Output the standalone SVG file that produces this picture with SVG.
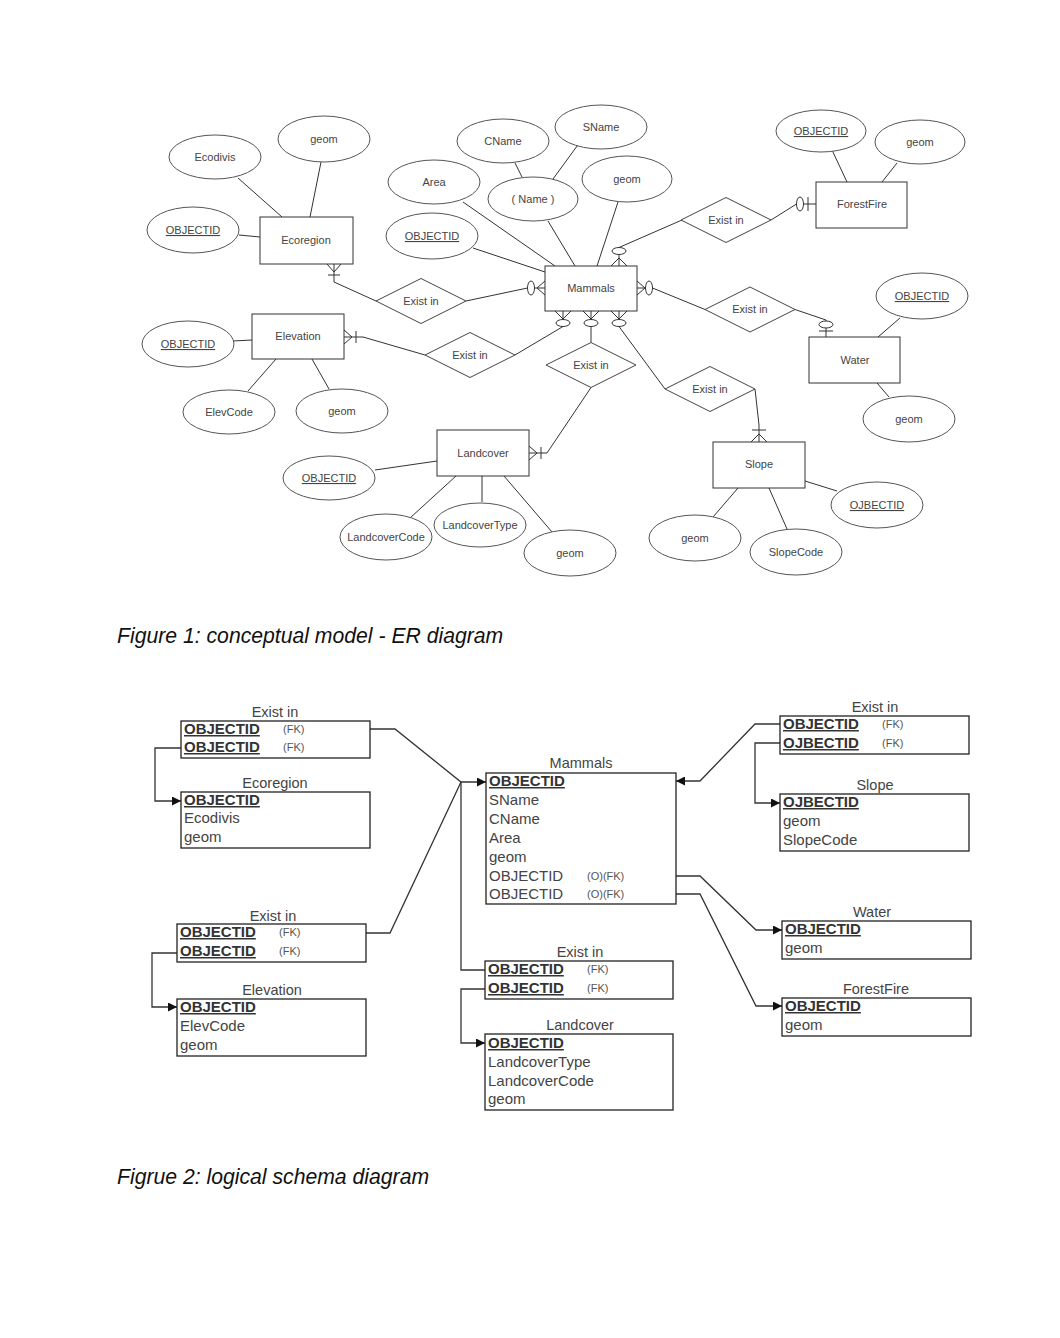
<svg xmlns="http://www.w3.org/2000/svg" width="1060" height="1338" viewBox="0 0 1060 1338">
<defs>
<style>
.bg{fill:#fff}
.ent{fill:#fff;stroke:#333;stroke-width:1}
.att{fill:#fff;stroke:#555;stroke-width:1}
.rel{fill:#fff;stroke:#444;stroke-width:1}
.ln{fill:none;stroke:#333;stroke-width:1}
.mk{fill:#fff;stroke:#333;stroke-width:1}
.t{font-family:"Liberation Sans",Arial,sans-serif;font-size:11px;fill:#444;text-anchor:middle}
.u{text-decoration:underline}
.tbl{fill:none;stroke:#222;stroke-width:1.3}
.sl{fill:none;stroke:#333;stroke-width:1.3}
.tt{font-family:"Liberation Sans",Arial,sans-serif;font-size:14.5px;fill:#444;text-anchor:middle}
.r{font-family:"Liberation Sans",Arial,sans-serif;font-size:15px;fill:#444}
.k{font-family:"Liberation Sans",Arial,sans-serif;font-size:15px;font-weight:bold;fill:#333;text-decoration:underline}
.fk{font-family:"Liberation Sans",Arial,sans-serif;font-size:11px;fill:#555}
.cap{font-family:"Liberation Sans",Arial,sans-serif;font-size:21.2px;font-style:italic;fill:#111}
</style>
<marker id="arr" viewBox="0 0 9 9" refX="9" refY="4.5" markerWidth="9" markerHeight="9" markerUnits="userSpaceOnUse" orient="auto">
<path d="M0,0 L9,4.5 L0,9 z" fill="#111"/>
</marker>
</defs>
<rect class="bg" x="0" y="0" width="1060" height="1338"/>

<!-- ER diagram connectors -->
<g id="er-connectors">
<!-- attribute lines -->
<line class="ln" x1="238" y1="178" x2="282" y2="217"/>
<line class="ln" x1="321" y1="162" x2="310" y2="217"/>
<line class="ln" x1="239" y1="235" x2="260" y2="237"/>
<line class="ln" x1="515" y1="163" x2="522" y2="177"/>
<line class="ln" x1="580" y1="142" x2="553" y2="179"/>
<line class="ln" x1="548" y1="221" x2="575" y2="266"/>
<line class="ln" x1="618" y1="202" x2="597" y2="266"/>
<line class="ln" x1="463" y1="202" x2="555" y2="266"/>
<line class="ln" x1="473" y1="248" x2="545" y2="272"/>
<line class="ln" x1="832" y1="150" x2="847" y2="182"/>
<line class="ln" x1="897" y1="163" x2="882" y2="182"/>
<line class="ln" x1="233" y1="341" x2="252" y2="340"/>
<line class="ln" x1="248" y1="391" x2="276" y2="359"/>
<line class="ln" x1="329" y1="389" x2="312" y2="359"/>
<line class="ln" x1="375" y1="470" x2="437" y2="461"/>
<line class="ln" x1="410" y1="518" x2="456" y2="476"/>
<line class="ln" x1="482" y1="502" x2="482" y2="476"/>
<line class="ln" x1="552" y1="532" x2="504" y2="476"/>
<line class="ln" x1="900" y1="318" x2="878" y2="337"/>
<line class="ln" x1="889" y1="397" x2="877" y2="383"/>
<line class="ln" x1="713" y1="517" x2="738" y2="488"/>
<line class="ln" x1="787" y1="529" x2="769" y2="488"/>
<line class="ln" x1="837" y1="491" x2="805" y2="481"/>
<!-- relationship lines -->
<polyline class="ln" points="334,264 334,282 376,301"/>
<polyline class="ln" points="327,264 334,272 341,264"/>
<line class="ln" x1="328" y1="275" x2="340" y2="275"/>
<line class="ln" x1="466" y1="301" x2="527.5" y2="288"/>
<line class="ln" x1="534.5" y1="288" x2="545" y2="288"/>
<polyline class="ln" points="545,281 537,288 545,295"/>
<ellipse class="mk" cx="531" cy="288" rx="3.5" ry="7"/>
<polyline class="ln" points="344,337 363,337 425,355"/>
<polyline class="ln" points="344,330 352,337 344,344"/>
<line class="ln" x1="356" y1="331" x2="356" y2="343"/>
<line class="ln" x1="515" y1="355" x2="563" y2="326.5"/>
<line class="ln" x1="563" y1="311" x2="563" y2="319.5"/>
<polyline class="ln" points="555,311 563,319 571,311"/>
<ellipse class="mk" cx="563" cy="323" rx="7" ry="3.5"/>
<line class="ln" x1="591" y1="342.5" x2="591" y2="326.5"/>
<line class="ln" x1="591" y1="311" x2="591" y2="319.5"/>
<polyline class="ln" points="583,311 591,319 599,311"/>
<ellipse class="mk" cx="591" cy="323" rx="7" ry="3.5"/>
<polyline class="ln" points="591,387.5 547,453 529,453"/>
<polyline class="ln" points="529,446 537,453 529,460"/>
<line class="ln" x1="541" y1="447" x2="541" y2="459"/>
<line class="ln" x1="619" y1="326.5" x2="665" y2="389"/>
<line class="ln" x1="619" y1="311" x2="619" y2="319.5"/>
<polyline class="ln" points="611,311 619,319 627,311"/>
<ellipse class="mk" cx="619" cy="323" rx="7" ry="3.5"/>
<polyline class="ln" points="755,389 759,425 759,442"/>
<polyline class="ln" points="751,442 759,434 767,442"/>
<line class="ln" x1="752" y1="430" x2="766" y2="430"/>
<line class="ln" x1="637" y1="288" x2="645.5" y2="288"/>
<polyline class="ln" points="637,281 645,288 637,295"/>
<ellipse class="mk" cx="649" cy="288" rx="3.5" ry="7"/>
<line class="ln" x1="652.5" y1="288" x2="705" y2="309.5"/>
<polyline class="ln" points="795,309.5 826,320 826,337"/>
<ellipse class="mk" cx="826" cy="324.5" rx="7" ry="3.5"/>
<line class="ln" x1="819" y1="331" x2="833" y2="331"/>
<line class="ln" x1="619" y1="266" x2="619" y2="254.5"/>
<polyline class="ln" points="611,266 619,258 627,266"/>
<ellipse class="mk" cx="619" cy="251" rx="7" ry="3.5"/>
<line class="ln" x1="619" y1="247.5" x2="682" y2="220"/>
<line class="ln" x1="771" y1="220" x2="796.5" y2="204"/>
<ellipse class="mk" cx="800" cy="204" rx="3.5" ry="7"/>
<line class="ln" x1="803.5" y1="204" x2="816" y2="204"/>
<line class="ln" x1="808" y1="197" x2="808" y2="211"/>
</g>

<!-- ER entities and attributes -->
<g id="er-ecoregion">
<rect class="ent" x="260" y="217" width="93" height="47"/>
<text class="t" x="306" y="244">Ecoregion</text>
<ellipse class="att" cx="215" cy="157" rx="46" ry="22"/><text class="t" x="215" y="161">Ecodivis</text>
<ellipse class="att" cx="324" cy="139" rx="46" ry="23"/><text class="t" x="324" y="143">geom</text>
<ellipse class="att" cx="193" cy="230" rx="46" ry="23"/><text class="t u" x="193" y="234">OBJECTID</text>
</g>
<g id="er-mammals">
<rect class="ent" x="545" y="266" width="92" height="45"/>
<text class="t" x="591" y="292">Mammals</text>
<ellipse class="att" cx="503" cy="141" rx="46" ry="22"/><text class="t" x="503" y="145">CName</text>
<ellipse class="att" cx="601" cy="127" rx="46" ry="22"/><text class="t" x="601" y="131">SName</text>
<ellipse class="att" cx="533" cy="199" rx="45" ry="22"/><text class="t" x="533" y="203">( Name )</text>
<ellipse class="att" cx="627" cy="179" rx="45" ry="23"/><text class="t" x="627" y="183">geom</text>
<ellipse class="att" cx="434" cy="182" rx="46" ry="22"/><text class="t" x="434" y="186">Area</text>
<ellipse class="att" cx="432" cy="236" rx="46" ry="23"/><text class="t u" x="432" y="240">OBJECTID</text>
</g>
<g id="er-forestfire">
<rect class="ent" x="816" y="182" width="91" height="46"/>
<text class="t" x="862" y="208">ForestFire</text>
<ellipse class="att" cx="821" cy="131" rx="45" ry="21"/><text class="t u" x="821" y="135">OBJECTID</text>
<ellipse class="att" cx="920" cy="142" rx="45" ry="22"/><text class="t" x="920" y="146">geom</text>
</g>
<g id="er-elevation">
<rect class="ent" x="252" y="314" width="92" height="45"/>
<text class="t" x="298" y="340">Elevation</text>
<ellipse class="att" cx="188" cy="344" rx="46" ry="23"/><text class="t u" x="188" y="348">OBJECTID</text>
<ellipse class="att" cx="229" cy="412" rx="46" ry="22"/><text class="t" x="229" y="416">ElevCode</text>
<ellipse class="att" cx="342" cy="411" rx="46" ry="22"/><text class="t" x="342" y="415">geom</text>
</g>
<g id="er-landcover">
<rect class="ent" x="437" y="430" width="92" height="46"/>
<text class="t" x="483" y="457">Landcover</text>
<ellipse class="att" cx="329" cy="478" rx="46" ry="22"/><text class="t u" x="329" y="482">OBJECTID</text>
<ellipse class="att" cx="386" cy="537" rx="46" ry="23"/><text class="t" x="386" y="541">LandcoverCode</text>
<ellipse class="att" cx="480" cy="525" rx="46" ry="22"/><text class="t" x="480" y="529">LandcoverType</text>
<ellipse class="att" cx="570" cy="553" rx="46" ry="23"/><text class="t" x="570" y="557">geom</text>
</g>
<g id="er-water">
<rect class="ent" x="809" y="337" width="91" height="46"/>
<text class="t" x="855" y="364">Water</text>
<ellipse class="att" cx="922" cy="296" rx="46" ry="23"/><text class="t u" x="922" y="300">OBJECTID</text>
<ellipse class="att" cx="909" cy="419" rx="46" ry="23"/><text class="t" x="909" y="423">geom</text>
</g>
<g id="er-slope">
<rect class="ent" x="713" y="442" width="92" height="46"/>
<text class="t" x="759" y="468">Slope</text>
<ellipse class="att" cx="695" cy="538" rx="46" ry="23"/><text class="t" x="695" y="542">geom</text>
<ellipse class="att" cx="796" cy="552" rx="46" ry="23"/><text class="t" x="796" y="556">SlopeCode</text>
<ellipse class="att" cx="877" cy="505" rx="46" ry="23"/><text class="t u" x="877" y="509">OJBECTID</text>
</g>
<g id="er-rel-ecoregion">
<polygon class="rel" points="376,301 421,278.5 466,301 421,323.5"/><text class="t" x="421" y="305">Exist in</text>
</g>
<g id="er-rel-elevation">
<polygon class="rel" points="425,355 470,332.5 515,355 470,377.5"/><text class="t" x="470" y="359">Exist in</text>
</g>
<g id="er-rel-landcover">
<polygon class="rel" points="546,365 591,342.5 636,365 591,387.5"/><text class="t" x="591" y="369">Exist in</text>
</g>
<g id="er-rel-slope">
<polygon class="rel" points="665,389 710,366.5 755,389 710,411.5"/><text class="t" x="710" y="393">Exist in</text>
</g>
<g id="er-rel-water">
<polygon class="rel" points="705,309.5 750,287 795,309.5 750,332"/><text class="t" x="750" y="313">Exist in</text>
</g>
<g id="er-rel-forestfire">
<polygon class="rel" points="681,220 726,197.5 771,220 726,242.5"/><text class="t" x="726" y="224">Exist in</text>
</g>

<text id="caption1" class="cap" x="117" y="643">Figure 1: conceptual model - ER diagram</text>

<!-- Logical schema connectors -->
<g id="schema-connectors">
<polyline class="sl" points="181,748 155,748 155,801 181,801" marker-end="url(#arr)"/>
<polyline class="sl" points="370,729 395,729 461,782 486,782" marker-end="url(#arr)"/>
<polyline class="sl" points="366,933 390,933 461,782"/>
<polyline class="sl" points="461,782 461,970 485,970"/>
<polyline class="sl" points="485,989 461,989 461,1043 485,1043" marker-end="url(#arr)"/>
<polyline class="sl" points="177,953 152,953 152,1007 177,1007" marker-end="url(#arr)"/>
<polyline class="sl" points="780,724 755,724 700,781 676,781" marker-end="url(#arr)"/>
<polyline class="sl" points="780,743 755,743 755,803 780,803" marker-end="url(#arr)"/>
<polyline class="sl" points="676,876 700,876 756,930 782,930" marker-end="url(#arr)"/>
<polyline class="sl" points="676,894 700,894 756,1006 782,1006" marker-end="url(#arr)"/>
</g>

<g id="t-existin-eco">
<text class="tt" x="275" y="717">Exist in</text>
<rect class="tbl" x="181" y="721" width="189" height="37"/>
<text class="k" x="184" y="734">OBJECTID</text><text class="fk" x="283" y="733">(FK)</text>
<text class="k" x="184" y="752">OBJECTID</text><text class="fk" x="283" y="751">(FK)</text>
</g>
<g id="t-ecoregion">
<text class="tt" x="275" y="788">Ecoregion</text>
<rect class="tbl" x="181" y="792" width="189" height="56"/>
<text class="k" x="184" y="805">OBJECTID</text>
<text class="r" x="184" y="823">Ecodivis</text>
<text class="r" x="184" y="842">geom</text>
</g>
<g id="t-existin-elev">
<text class="tt" x="273" y="921">Exist in</text>
<rect class="tbl" x="177" y="924" width="189" height="38"/>
<text class="k" x="180" y="937">OBJECTID</text><text class="fk" x="279" y="936">(FK)</text>
<text class="k" x="180" y="956">OBJECTID</text><text class="fk" x="279" y="955">(FK)</text>
</g>
<g id="t-elevation">
<text class="tt" x="272" y="995">Elevation</text>
<rect class="tbl" x="177" y="999" width="189" height="57"/>
<text class="k" x="180" y="1012">OBJECTID</text>
<text class="r" x="180" y="1031">ElevCode</text>
<text class="r" x="180" y="1050">geom</text>
</g>
<g id="t-mammals">
<text class="tt" x="581" y="768">Mammals</text>
<rect class="tbl" x="486" y="773" width="190" height="131"/>
<text class="k" x="489" y="786">OBJECTID</text>
<text class="r" x="489" y="805">SName</text>
<text class="r" x="489" y="824">CName</text>
<text class="r" x="489" y="843">Area</text>
<text class="r" x="489" y="862">geom</text>
<text class="r" x="489" y="881">OBJECTID</text><text class="fk" x="587" y="880">(O)(FK)</text>
<text class="r" x="489" y="899">OBJECTID</text><text class="fk" x="587" y="898">(O)(FK)</text>
</g>
<g id="t-existin-land">
<text class="tt" x="580" y="957">Exist in</text>
<rect class="tbl" x="485" y="961" width="188" height="38"/>
<text class="k" x="488" y="974">OBJECTID</text><text class="fk" x="587" y="973">(FK)</text>
<text class="k" x="488" y="993">OBJECTID</text><text class="fk" x="587" y="992">(FK)</text>
</g>
<g id="t-landcover">
<text class="tt" x="580" y="1030">Landcover</text>
<rect class="tbl" x="485" y="1034" width="188" height="76"/>
<text class="k" x="488" y="1048">OBJECTID</text>
<text class="r" x="488" y="1067">LandcoverType</text>
<text class="r" x="488" y="1086">LandcoverCode</text>
<text class="r" x="488" y="1104">geom</text>
</g>
<g id="t-existin-slope">
<text class="tt" x="875" y="712">Exist in</text>
<rect class="tbl" x="780" y="716" width="189" height="38"/>
<text class="k" x="783" y="729">OBJECTID</text><text class="fk" x="882" y="728">(FK)</text>
<text class="k" x="783" y="748">OJBECTID</text><text class="fk" x="882" y="747">(FK)</text>
</g>
<g id="t-slope">
<text class="tt" x="875" y="790">Slope</text>
<rect class="tbl" x="780" y="794" width="189" height="57"/>
<text class="k" x="783" y="807">OJBECTID</text>
<text class="r" x="783" y="826">geom</text>
<text class="r" x="783" y="845">SlopeCode</text>
</g>
<g id="t-water">
<text class="tt" x="872" y="917">Water</text>
<rect class="tbl" x="782" y="921" width="189" height="38"/>
<text class="k" x="785" y="934">OBJECTID</text>
<text class="r" x="785" y="953">geom</text>
</g>
<g id="t-forestfire">
<text class="tt" x="876" y="994">ForestFire</text>
<rect class="tbl" x="782" y="998" width="189" height="38"/>
<text class="k" x="785" y="1011">OBJECTID</text>
<text class="r" x="785" y="1030">geom</text>
</g>

<text id="caption2" class="cap" x="117" y="1184">Figrue 2: logical schema diagram</text>
</svg>
